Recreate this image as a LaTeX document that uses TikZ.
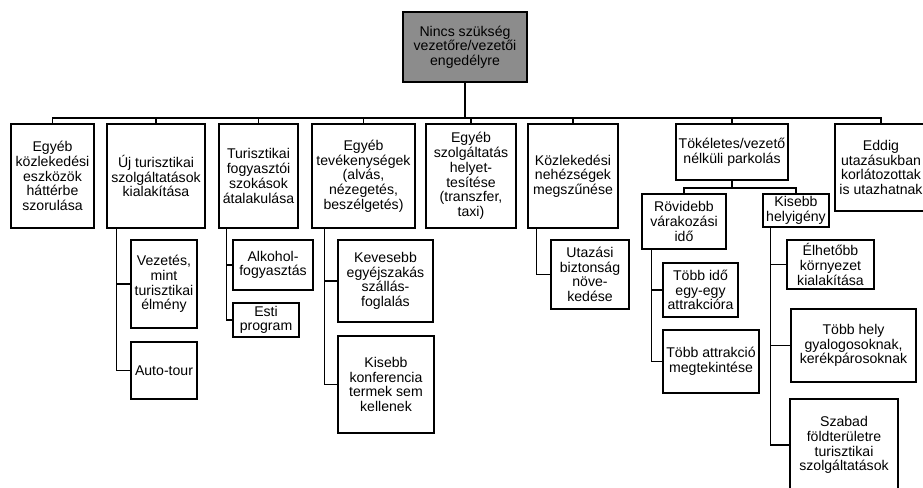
\documentclass[tikz,border=0pt]{standalone}
\usepackage{fontspec}
\setmainfont{Liberation Sans}
\begin{document}
\begin{tikzpicture}[x=1pt,y=-1pt,
  bx/.style={draw=black, line width=1.5pt, fill=white, inner sep=0pt, align=center,
    font=\fontsize{14.1}{14.7}\selectfont, text=black},
  rootbox/.style={bx, fill=black!45},
  conn/.style={draw=black, line width=1.5pt}]
\useasboundingbox (0,0) rectangle (923,487);
\clip (0,0) rectangle (923,487);
\fill[white] (0,0) rectangle (923,487);
% root
\node[rootbox, minimum width=124pt, minimum height=70pt] (root) at (465,47)
  {Nincs szükség\\vezetőre/vezetői\\engedélyre};
% level 1
\node[bx, minimum width=83pt, minimum height=104pt] (b1) at (52.5,176)
  {Egyéb\\közlekedési\\eszközök\\háttérbe\\szorulása};
\node[bx, minimum width=98pt, minimum height=104pt] (b2) at (156,176)
  {Új turisztikai\\szolgáltatások\\kialakítása};
\node[bx, minimum width=79pt, minimum height=104pt] (b3) at (258.5,176)
  {Turisztikai\\fogyasztói\\szokások\\átalakulása};
\node[bx, minimum width=103pt, minimum height=104pt] (b4) at (363.5,176)
  {Egyéb\\tevékenységek\\(alvás,\\nézegetés,\\beszélgetés)};
\node[bx, minimum width=90pt, minimum height=104pt] (b5) at (471,176)
  {Egyéb\\szolgáltatás\\helyet-\\tesítése\\(transzfer,\\taxi)};
\node[bx, minimum width=90pt, minimum height=104pt] (b6) at (573,176)
  {Közlekedési\\nehézségek\\megszűnése};
\node[bx, minimum width=112pt, minimum height=56pt] (b7) at (732,152)
  {Tökéletes/vezető\\nélküli parkolás};
\node[bx, minimum width=92pt, minimum height=87pt] (b8) at (881,167.5)
  {Eddig\\utazásukban\\korlátozottak\\is utazhatnak};
% level 2
\node[bx, minimum width=66pt, minimum height=88pt] (c21) at (164,284)
  {Vezetés,\\mint\\turisztikai\\élmény};
\node[bx, minimum width=66pt, minimum height=57pt] (c22) at (164,370.5)
  {Auto-tour};
\node[bx, minimum width=80pt, minimum height=50pt] (c31) at (273,265)
  {Alkohol-\\fogyasztás};
\node[bx, minimum width=66pt, minimum height=34pt] (c32) at (266,320)
  {Esti\\program};
\node[bx, minimum width=95pt, minimum height=82pt] (c41) at (385.5,281)
  {Kevesebb\\egyéjszakás\\szállás-\\foglalás};
\node[bx, minimum width=96pt, minimum height=97pt] (c42) at (386,384.5)
  {Kisebb\\konferencia\\termek sem\\kellenek};
\node[bx, minimum width=78pt, minimum height=69pt] (c61) at (590,274.5)
  {Utazási\\biztonság\\növe-\\kedése};
\node[bx, minimum width=84pt, minimum height=55pt] (c71) at (684,221.5)
  {Rövidebb\\várakozási\\idő};
\node[bx, minimum width=66pt, minimum height=33pt] (c72) at (796,210.5)
  {Kisebb\\helyigény};
\node[bx, minimum width=75pt, minimum height=54pt] (c711) at (700.5,290)
  {Több idő\\egy-egy\\attrakcióra};
\node[bx, minimum width=96pt, minimum height=63pt] (c712) at (711,361.5)
  {Több attrakció\\megtekintése};
\node[bx, minimum width=87pt, minimum height=49pt] (c721) at (830.5,264.5)
  {Élhetőbb\\környezet\\kialakítása};
\node[bx, minimum width=125pt, minimum height=73pt] (c722) at (853.5,345.5)
  {Több hely\\gyalogosoknak,\\kerékpárosoknak};
\node[bx, minimum width=108pt, minimum height=92pt] (c723) at (844,445)
  {Szabad\\földterületre\\turisztikai\\szolgáltatások};
% connectors
\foreach \b in {b1,b2,b3,b4,b5,b6,b7,b8}
  \draw[conn] (root.south) -- ++(0,35) -| (\b.north);
\foreach \b in {c71,c72}
  \draw[conn] (b7.south) -- ++(0,7) -| (\b.north);
\foreach \c in {c21,c22}
  \draw[conn] ([xshift=10pt]b2.south west) |- (\c.west);
\foreach \c in {c31,c32}
  \draw[conn] ([xshift=8pt]b3.south west) |- (\c.west);
\foreach \c in {c41,c42}
  \draw[conn] ([xshift=13pt]b4.south west) |- (\c.west);
\draw[conn] ([xshift=9pt]b6.south west) |- (c61.west);
\foreach \c in {c711,c712}
  \draw[conn] ([xshift=10pt]c71.south west) |- (\c.west);
\foreach \c in {c721,c722,c723}
  \draw[conn] ([xshift=8pt]c72.south west) |- (\c.west);
\end{tikzpicture}
\end{document}
